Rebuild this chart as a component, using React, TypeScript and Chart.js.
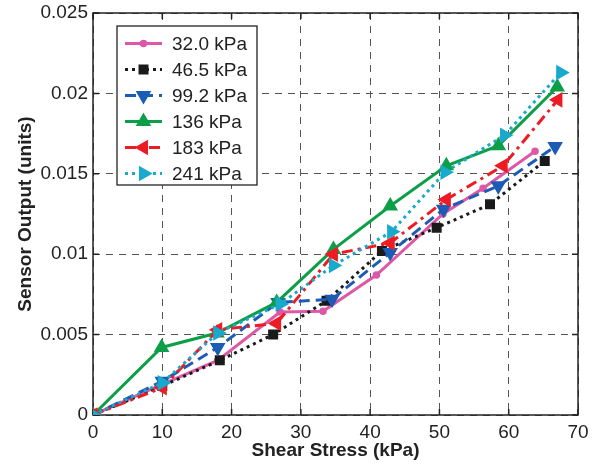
import React, { useEffect, useRef } from 'react';
import { Chart, registerables } from 'chart.js';
import { drawPoint } from 'chart.js/helpers';

Chart.register(...registerables);

const seriesLabels = ['32.0 kPa', '46.5 kPa', '99.2 kPa', '136 kPa', '183 kPa', '241 kPa'];

const stress32 = [0, 10, 18, 27, 33.2, 40.9, 50.5, 56.3, 63.8];
const output32 = [0, 0.0019, 0.0034, 0.0064, 0.00645, 0.0087, 0.0125, 0.0141, 0.0164];

const stress46 = [0, 10, 18.3, 26, 33.7, 41.7, 49.6, 57.3, 65.2];
const output46 = [0, 0.0018, 0.0034, 0.005, 0.0071, 0.0102, 0.01165, 0.0131, 0.0158];

const stress99 = [0, 10, 18, 26.7, 34.5, 42.9, 50.6, 58.5, 66.7];
const output99 = [0, 0.0021, 0.0042, 0.007, 0.0072, 0.0101, 0.0128, 0.01425, 0.0167];

const stress136 = [0, 9.9, 17.9, 26.5, 34.7, 42.9, 51, 58.5, 67];
const output136 = [0, 0.0042, 0.0051, 0.007, 0.0103, 0.013, 0.0155, 0.01675, 0.0204];

const stress183 = [0, 10, 18, 26.5, 34.7, 42.9, 51, 59.2, 67.1];
const output183 = [0, 0.0017, 0.0053, 0.0057, 0.01, 0.0107, 0.0134, 0.0155, 0.0196];

const stress241 = [0, 10, 18, 27, 34.7, 43.1, 50.8, 59.4, 67.5];
const output241 = [0, 0.002, 0.0051, 0.0069, 0.0093, 0.0114, 0.0151, 0.0174, 0.0213];

const xTicks = [0, 10, 20, 30, 40, 50, 60, 70];
const yTicks = [0, 0.005, 0.01, 0.015, 0.02, 0.025];

const FONT = '"Liberation Sans", Arial, Helvetica, sans-serif';

const toPts = (xs: number[], ys: number[]) => xs.map((x, i) => ({ x, y: ys[i] }));

const styles = [
  { color: '#dd58a6', dash: [] as number[], pointStyle: 'circle', radius: 3, rotation: 0 },
  { color: '#1a1a1a', dash: [3, 4], pointStyle: 'rect', radius: 6, rotation: 0 },
  { color: '#1d5cb4', dash: [11, 6], pointStyle: 'triangle', radius: 7.5, rotation: 180 },
  { color: '#0d9e48', dash: [] as number[], pointStyle: 'triangle', radius: 7.5, rotation: 0 },
  { color: '#ed1c24', dash: [11, 5, 3, 5], pointStyle: 'triangle', radius: 7.5, rotation: -90 },
  { color: '#19a9cc', dash: [3, 4], pointStyle: 'triangle', radius: 7.5, rotation: 90 },
];

const seriesData = [
  toPts(stress32, output32),
  toPts(stress46, output46),
  toPts(stress99, output99),
  toPts(stress136, output136),
  toPts(stress183, output183),
  toPts(stress241, output241),
];

const framePlugin = {
  id: 'frame',
  beforeDatasetsDraw(chart: any) {
    const { ctx, chartArea: a, scales } = chart;
    const x = scales.x, y = scales.y;
    ctx.save();
    ctx.strokeStyle = '#222';
    ctx.lineWidth = 1.5;
    ctx.strokeRect(a.left, a.top, a.right - a.left, a.bottom - a.top);
    const L = 6;
    ctx.beginPath();
    x.ticks.forEach((t: any) => {
      const px = x.getPixelForValue(t.value);
      ctx.moveTo(px, a.bottom); ctx.lineTo(px, a.bottom - L);
      ctx.moveTo(px, a.top); ctx.lineTo(px, a.top + L);
    });
    y.ticks.forEach((t: any) => {
      const py = y.getPixelForValue(t.value);
      ctx.moveTo(a.left, py); ctx.lineTo(a.left + L, py);
      ctx.moveTo(a.right, py); ctx.lineTo(a.right - L, py);
    });
    ctx.stroke();
    ctx.restore();
  },
};

const legendPlugin = {
  id: 'boxLegend',
  afterDraw(chart: any) {
    const { ctx, chartArea: a } = chart;
    const bx = a.left + 24, by = a.top + 13, bw = 140, bh = 159;
    ctx.save();
    ctx.fillStyle = '#ffffff';
    ctx.fillRect(bx, by, bw, bh);
    ctx.strokeStyle = '#222';
    ctx.lineWidth = 1.3;
    ctx.strokeRect(bx, by, bw, bh);
    chart.data.datasets.forEach((ds: any, i: number) => {
      const st = styles[i];
      const cy = by + 17.5 + i * 26;
      ctx.save();
      ctx.strokeStyle = st.color;
      ctx.lineWidth = 3;
      ctx.setLineDash(st.dash);
      ctx.beginPath();
      ctx.moveTo(bx + 8, cy);
      ctx.lineTo(bx + 45, cy);
      ctx.stroke();
      ctx.restore();
      ctx.save();
      ctx.fillStyle = st.color;
      ctx.strokeStyle = st.color;
      ctx.lineWidth = 1.5;
      drawPoint(ctx, { pointStyle: st.pointStyle as any, radius: st.radius, rotation: st.rotation, borderWidth: 1.5 }, bx + 26.5, cy);
      ctx.restore();
      ctx.fillStyle = '#222';
      ctx.font = `19px ${FONT}`;
      ctx.textBaseline = 'middle';
      ctx.textAlign = 'left';
      ctx.fillText(ds.label, bx + 55, cy + 1);
    });
    ctx.restore();
  },
};

export default function App() {
  const ref = useRef<HTMLCanvasElement | null>(null);
  useEffect(() => {
    if (!ref.current) return;
    const chart = new Chart(ref.current, {
      type: 'line',
      data: {
        datasets: seriesData.map((d, i) => ({
          label: seriesLabels[i],
          data: d,
          borderColor: styles[i].color,
          backgroundColor: styles[i].color,
          borderWidth: 3,
          borderDash: styles[i].dash,
          pointStyle: styles[i].pointStyle as any,
          pointRadius: styles[i].radius,
          pointRotation: styles[i].rotation,
          pointBorderWidth: 1.5,
          pointBackgroundColor: styles[i].color,
          pointBorderColor: styles[i].color,
          tension: 0,
          fill: false,
          order: 5 - i,
        })),
      },
      options: {
        animation: false,
        responsive: false,
        maintainAspectRatio: false,
        layout: { padding: { left: 0, top: 13, right: 20, bottom: 0 } },
        plugins: { legend: { display: false }, tooltip: { enabled: false } },
        scales: {
          x: {
            type: 'linear',
            min: 0,
            max: 70,
            afterBuildTicks: (s: any) => { s.ticks = xTicks.map((v) => ({ value: v })); },
            ticks: { font: { family: FONT, size: 19 }, color: '#222', padding: 6, maxRotation: 0 },
            grid: { color: '#555', lineWidth: 1, drawTicks: false },
            border: { display: false, dash: [7, 6] },
            title: { display: true, text: 'Shear Stress (kPa)', font: { family: FONT, size: 19, weight: 'bold' }, color: '#222', padding: { top: 0, bottom: 4 } },
            afterFit: (s: any) => { s.height = 51; s.paddingLeft = 0; s.paddingRight = 0; },
          },
          y: {
            type: 'linear',
            min: 0,
            max: 0.025,
            afterBuildTicks: (s: any) => { s.ticks = yTicks.map((v) => ({ value: v })); },
            ticks: {
              font: { family: FONT, size: 19 },
              color: '#222',
              padding: 5,
              callback: (v: any) => String(parseFloat(Number(v).toFixed(3))),
            },
            grid: { color: '#555', lineWidth: 1, drawTicks: false },
            border: { display: false, dash: [7, 6] },
            title: { display: true, text: 'Sensor Output (units)', font: { family: FONT, size: 19, weight: 'bold' }, color: '#222', padding: { top: 14, bottom: 0 } },
            afterFit: (s: any) => { s.width = 93; s.paddingTop = 0; s.paddingBottom = 0; },
          },
        },
      },
      plugins: [framePlugin, legendPlugin],
    });
    return () => chart.destroy();
  }, []);
  return (
    <div style={{ position: 'fixed', left: 0, top: 0, width: 598, height: 466, background: '#fff' }}>
      <canvas ref={ref} width={598} height={466} style={{ width: 598, height: 466 }} />
    </div>
  );
}
